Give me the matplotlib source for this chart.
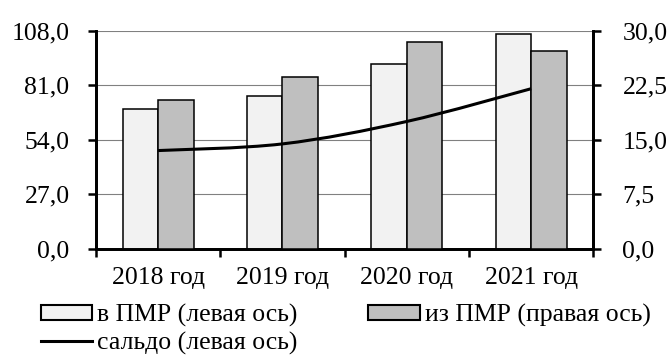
import matplotlib
matplotlib.use("Agg")
import matplotlib.pyplot as plt
from matplotlib.path import Path
from matplotlib.patches import PathPatch, Patch
from matplotlib.lines import Line2D
from matplotlib.ticker import FuncFormatter, FixedLocator

plt.rcParams['font.family'] = ['Liberation Serif', 'DejaVu Serif']

categories = ["2018 год", "2019 год", "2020 год", "2021 год"]
v_pmr = [69.2, 75.8, 91.3, 106.4]        # left axis
iz_pmr = [20.5, 23.7, 28.5, 27.2]        # right axis
saldo = [48.7, 52.0, 63.1, 79.3]         # left axis
left_ticks = [0, 27, 54, 81, 108]
right_ticks = [0, 7.5, 15, 22.5, 30]

light = "#f2f2f2"
dark = "#bfbfbf"
fs = 18.5

W, H = 667, 356
fig = plt.figure(figsize=(W / 100, H / 100), dpi=100)
ax = fig.add_axes([96 / W, 1 - 249 / H, (593.3 - 96) / W, (249 - 30.7) / H])
ax2 = ax.twinx()

x = list(range(len(categories)))
w = 0.286
ax.bar([i - w / 2 for i in x], v_pmr, width=w, color=light, edgecolor="black", linewidth=1.1, zorder=3)
ax2.bar([i + w / 2 for i in x], iz_pmr, width=w, color=dark, edgecolor="black", linewidth=1.1, zorder=3)

# smoothed line (Catmull-Rom -> Bezier), drawn on top axis in left-axis coordinates
pts = list(zip(x, saldo))
verts = [pts[0]]
codes = [Path.MOVETO]
n = len(pts)
for i in range(n - 1):
    p0 = pts[i - 1] if i > 0 else pts[i]
    p1 = pts[i]
    p2 = pts[i + 1]
    p3 = pts[i + 2] if i + 2 < n else pts[i + 1]
    c1 = (p1[0] + (p2[0] - p0[0]) / 6, p1[1] + (p2[1] - p0[1]) / 6)
    c2 = (p2[0] - (p3[0] - p1[0]) / 6, p2[1] - (p3[1] - p1[1]) / 6)
    verts += [c1, c2, p2]
    codes += [Path.CURVE4] * 3
patch = PathPatch(Path(verts, codes), facecolor="none", edgecolor="black", linewidth=2.2,
                  transform=ax.transData, zorder=5, capstyle="butt")
ax2.add_patch(patch)

ax.set_xlim(-0.5, 3.5)
ax.set_ylim(0, 108)
ax2.set_ylim(0, 30)
ax.yaxis.set_major_locator(FixedLocator(left_ticks))
ax2.yaxis.set_major_locator(FixedLocator(right_ticks))
fmt = FuncFormatter(lambda v, p: f"{v:.1f}".replace(".", ","))
ax.yaxis.set_major_formatter(fmt)
ax2.yaxis.set_major_formatter(fmt)

ax.set_xticks(x)
ax.set_xticklabels(categories)
ax.set_xticks([-0.5, 0.5, 1.5, 2.5, 3.5], minor=True)
ax.tick_params(axis="x", which="major", length=0, labelsize=fs, pad=13)
ax.tick_params(axis="x", which="minor", length=6, width=1.8, direction="out")
ax.tick_params(axis="y", length=6, width=1.8, direction="out", labelsize=fs, pad=13)
ax2.tick_params(axis="y", length=6, width=1.8, direction="out", labelsize=fs, pad=15)

ax.grid(axis="y", color="#808080", linewidth=0.8, zorder=0)
ax.set_axisbelow(True)

for a in (ax, ax2):
    a.spines["top"].set_visible(False)
    for s in ("left", "right", "bottom"):
        a.spines[s].set_linewidth(2)
        a.spines[s].set_color("black")

h_in = Patch(facecolor=light, edgecolor="black", linewidth=1.5)
h_iz = Patch(facecolor=dark, edgecolor="black", linewidth=1.5)
h_sal = Line2D([0], [0], color="black", linewidth=2.2)
common = dict(frameon=False, fontsize=fs, handlelength=2.0, handleheight=0.55,
              handletextpad=0.2, labelspacing=0.2, borderpad=0.0, borderaxespad=0.0,
              loc="upper left")
fig.legend([h_in, h_sal], ["в ПМР (левая ось)", "сальдо (левая ось)"],
           bbox_to_anchor=(40.7 / W, 1 - 304 / H), **common)
fig.legend([h_iz], ["из ПМР (правая ось)"],
           bbox_to_anchor=(368.3 / W, 1 - 304 / H), **common)

fig.savefig("out.png", dpi=100)
